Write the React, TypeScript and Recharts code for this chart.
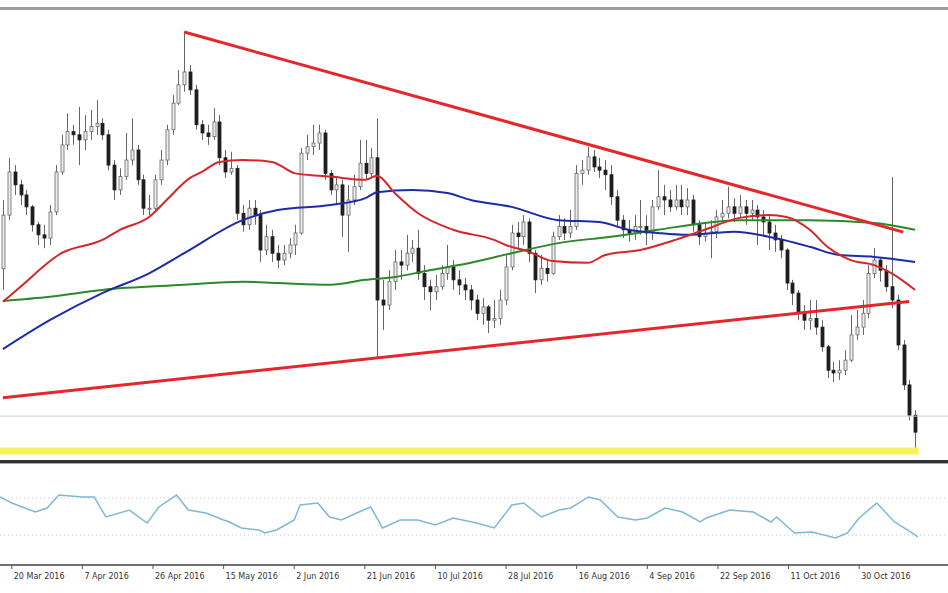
import React from 'react';
import { ComposedChart, LineChart, Bar, Line, XAxis, YAxis, ReferenceLine } from 'recharts';

// daily candles (open = previous close)
const FIRST_OPEN = 1.11;
const CLOSE = [
  1.1217, 1.1311, 1.1283, 1.1261, 1.1235, 1.1196, 1.1174, 1.1167, 1.1224, 1.1311,
  1.137, 1.1399, 1.1392, 1.1381, 1.1399, 1.141, 1.1417, 1.1392, 1.1326, 1.1272,
  1.1301, 1.1337, 1.1359, 1.1294, 1.1232, 1.1232, 1.1294, 1.1337, 1.1403, 1.1461,
  1.1501, 1.1529, 1.149, 1.1414, 1.1396, 1.1388, 1.142, 1.1342, 1.1311, 1.1319,
  1.1221, 1.1196, 1.1232, 1.1217, 1.1141, 1.117, 1.1134, 1.1119, 1.1134, 1.1152,
  1.1178, 1.1352, 1.1366, 1.1374, 1.1396, 1.1308, 1.1272, 1.1283, 1.1217, 1.125,
  1.1279, 1.133, 1.1308, 1.1342, 1.1032, 1.1021, 1.1072, 1.1115, 1.1108, 1.1134,
  1.1145, 1.109, 1.1061, 1.105, 1.1061, 1.109, 1.1104, 1.1076, 1.1065, 1.1054,
  1.1032, 1.1003, 1.1017, 1.0988, 1.0992, 1.1032, 1.1104, 1.1178, 1.117, 1.1202,
  1.1134, 1.1076, 1.1101, 1.109, 1.117, 1.1192, 1.1178, 1.1192, 1.1308, 1.1315,
  1.1344, 1.1322, 1.1315, 1.1305, 1.1257, 1.1206, 1.1185, 1.1178, 1.1192, 1.1192,
  1.1178, 1.1235, 1.1257, 1.125, 1.1235, 1.125, 1.1235, 1.125, 1.1196, 1.117,
  1.1178, 1.1181, 1.1213, 1.1221, 1.1235, 1.1221, 1.1235, 1.1221, 1.1228, 1.1213,
  1.1202, 1.1178, 1.1163, 1.1141, 1.1069, 1.1047, 1.1003, 1.0988, 1.0992, 1.0973,
  1.093, 1.0879, 1.0873, 1.0879, 1.0901, 1.0956, 1.0973, 1.1003, 1.109, 1.1119,
  1.1097, 1.1061, 1.1032, 1.0934, 1.0847, 1.0781, 1.0744,
];
const HIGH = [
  1.125, 1.1342, 1.1326, 1.1294, 1.1272, 1.1239, 1.1202, 1.1196, 1.1239, 1.1326,
  1.1392, 1.1439, 1.1414, 1.1453, 1.1435, 1.1446, 1.1468, 1.1428, 1.1403, 1.1337,
  1.1319, 1.1396, 1.1428, 1.137, 1.1305, 1.1261, 1.1305, 1.1359, 1.1414, 1.1479,
  1.1533, 1.1616, 1.1544, 1.1501, 1.1424, 1.1414, 1.145, 1.1435, 1.1359, 1.1355,
  1.1326, 1.1239, 1.125, 1.125, 1.1228, 1.1196, 1.1185, 1.1152, 1.1152, 1.1167,
  1.1196, 1.1363, 1.1392, 1.1414, 1.1414, 1.1403, 1.1315, 1.1298, 1.1294, 1.1283,
  1.1305, 1.1381, 1.1381, 1.1363, 1.1428, 1.1076, 1.1097, 1.1141, 1.1141, 1.1174,
  1.1163, 1.1185, 1.1108, 1.1076, 1.1087, 1.1108, 1.1152, 1.1119, 1.1097, 1.108,
  1.1065, 1.1043, 1.1036, 1.1021, 1.1032, 1.1054, 1.113, 1.1196, 1.1202, 1.1217,
  1.121, 1.1141, 1.113, 1.1119, 1.1181, 1.1217, 1.121, 1.1228, 1.1326, 1.1337,
  1.1366, 1.1359, 1.1342, 1.1337, 1.1326, 1.1272, 1.1217, 1.1206, 1.1217, 1.125,
  1.1217, 1.125, 1.1315, 1.1283, 1.1272, 1.1283, 1.1283, 1.1276, 1.1261, 1.1206,
  1.1202, 1.1206, 1.1228, 1.125, 1.1279, 1.1254, 1.1261, 1.125, 1.125, 1.1239,
  1.1228, 1.1217, 1.1196, 1.1174, 1.1145, 1.1076, 1.1054, 1.1021, 1.1032, 1.1032,
  1.0988, 1.0934, 1.0897, 1.0901, 1.0923, 1.0999, 1.101, 1.1032, 1.1108, 1.1145,
  1.1123, 1.1108, 1.13, 1.1043, 1.0945, 1.0858, 1.0792,
];
const LOW = [
  1.1054, 1.1206, 1.1261, 1.1239, 1.1217, 1.1181, 1.1152, 1.1145, 1.1152, 1.1217,
  1.1305, 1.1359, 1.137, 1.1326, 1.1359, 1.1381, 1.1392, 1.1381, 1.1315, 1.125,
  1.1261, 1.1294, 1.1326, 1.1283, 1.1217, 1.1217, 1.1224, 1.1283, 1.1326, 1.1392,
  1.1457, 1.1486, 1.1479, 1.1403, 1.1381, 1.137, 1.1381, 1.1326, 1.1298, 1.1305,
  1.1206, 1.1181, 1.1185, 1.1196, 1.1115, 1.113, 1.1115, 1.1101, 1.1108, 1.1123,
  1.113, 1.1174, 1.1337, 1.1348, 1.1359, 1.1294, 1.1261, 1.1239, 1.117, 1.1137,
  1.1239, 1.1272, 1.1294, 1.1298, 1.0908, 1.0967, 1.101, 1.1054, 1.1076, 1.1097,
  1.1115, 1.1076, 1.1032, 1.101, 1.1032, 1.1054, 1.1076, 1.1054, 1.1043, 1.1032,
  1.101, 1.0988, 1.0978, 1.096, 1.0971, 1.0978, 1.1021, 1.1097, 1.1145, 1.1152,
  1.1115, 1.1047, 1.1065, 1.1072, 1.1087, 1.1163, 1.1163, 1.1167, 1.1185, 1.1283,
  1.1305, 1.1311, 1.1298, 1.1272, 1.1239, 1.1189, 1.1167, 1.1159, 1.1163, 1.1174,
  1.1152, 1.1163, 1.1228, 1.1217, 1.1224, 1.1228, 1.1217, 1.1217, 1.1181, 1.1152,
  1.1159, 1.1123, 1.1167, 1.1202, 1.121, 1.1202, 1.121, 1.1196, 1.1206, 1.1152,
  1.1174, 1.1141, 1.1137, 1.1123, 1.1054, 1.1021, 1.0988, 1.0967, 1.0967, 1.0956,
  1.0919, 1.0862, 1.0853, 1.0858, 1.0868, 1.0897, 1.0945, 1.0956, 1.0992, 1.108,
  1.1072, 1.105, 1.1014, 1.0923, 1.0836, 1.077, 1.0701,
];

// moving averages, read at [bar, price]
const MA_RED = [
  [0, 1.1028], [3, 1.1061], [10, 1.1134], [17, 1.1163], [20, 1.1185], [25, 1.1213],
  [28, 1.125], [32, 1.1298], [34, 1.1311], [37, 1.1333], [41, 1.1337], [46, 1.1333],
  [50, 1.1308], [56, 1.1301], [62, 1.1294], [64, 1.1303], [67, 1.1265], [71, 1.1221],
  [77, 1.1185], [84, 1.1163], [86, 1.1152], [90, 1.1137], [94, 1.1117], [100, 1.1113],
  [103, 1.113], [109, 1.1141], [115, 1.1163], [120, 1.1185], [126, 1.1211], [131, 1.1217],
  [134, 1.1213], [138, 1.1185], [141, 1.1148], [145, 1.1119], [149, 1.1108], [152, 1.109],
  [156, 1.1054],
];
const MA_BLUE = [
  [0, 1.0925], [8, 1.0988], [17, 1.1047], [25, 1.109], [31, 1.1134], [41, 1.1206],
  [47, 1.1228], [56, 1.1239], [62, 1.1254], [64, 1.1267], [70, 1.1272], [76, 1.1265],
  [80, 1.125], [87, 1.1235], [95, 1.1206], [102, 1.1202], [107, 1.1185], [112, 1.1178],
  [117, 1.1174], [125, 1.1181], [132, 1.1167], [138, 1.1148], [143, 1.113], [149, 1.1126],
  [156, 1.1115],
];
const MA_GREEN = [
  [0, 1.103], [8, 1.1039], [17, 1.1054], [31, 1.1065], [41, 1.1072], [47, 1.1069],
  [56, 1.1065], [62, 1.1076], [67, 1.1082], [73, 1.1097], [80, 1.1113], [87, 1.1134],
  [95, 1.1156], [104, 1.117], [112, 1.1185], [120, 1.12], [126, 1.1206], [138, 1.1206],
  [149, 1.12], [156, 1.1185],
];

// triangle trendlines
const TREND_UPPER = [[31, 1.1616], [154, 1.118]];
const TREND_LOWER = [[0, 1.0819], [155, 1.1029]];
const SUPPORT = 1.0703;
const LEVEL = 1.0779;

// RSI sub-window, read at [bar, value]
const RSI = [
  [0, 71.1], [2, 64.6], [6, 54.9], [8, 59.2], [10, 73.2], [14, 71.1], [16, 71.1],
  [18, 49.5], [22, 57.0], [25, 43.0], [27, 60.3], [30, 73.2], [32, 57.0], [35, 53.8],
  [38, 46.2], [39, 44.1], [41, 37.6], [44, 35.4], [45, 32.2], [47, 35.4], [50, 46.2],
  [51, 62.4], [54, 64.6], [56, 49.5], [58, 46.2], [61, 54.9], [63, 60.3], [65, 37.6],
  [68, 46.2], [71, 46.2], [74, 40.8], [77, 48.4], [81, 43.0], [84, 37.6], [87, 62.4],
  [89, 64.6], [92, 49.5], [95, 57.0], [97, 59.2], [100, 71.1], [102, 67.8], [105, 49.5],
  [108, 46.2], [110, 48.4], [113, 59.2], [116, 54.9], [119, 44.1], [120, 48.4], [124, 57.0],
  [128, 54.9], [131, 44.1], [132, 49.5], [135, 32.2], [138, 33.2], [142, 26.8], [144, 32.2],
  [146, 48.4], [149, 64.6], [152, 44.1], [155, 32.2], [156, 27.8],
];

const DATE_TICKS = [2, 14, 26, 38, 50, 62, 74, 86, 98, 110, 122, 134, 146];
const DATE_LABELS = [
  '20 Mar 2016', '7 Apr 2016', '26 Apr 2016', '15 May 2016', '2 Jun 2016', '21 Jun 2016',
  '10 Jul 2016', '28 Jul 2016', '16 Aug 2016', '4 Sep 2016', '22 Sep 2016', '11 Oct 2016',
  '30 Oct 2016',
];

const toMap = (pairs: number[][]) => new Map(pairs.map(([i, v]) => [i, v]));
const red = toMap(MA_RED), blue = toMap(MA_BLUE), green = toMap(MA_GREEN);
const up = toMap(TREND_UPPER), lo = toMap(TREND_LOWER), rsi = toMap(RSI);

const data = CLOSE.map((c, i) => ({
  i,
  open: i ? CLOSE[i - 1] : FIRST_OPEN,
  close: c,
  high: HIGH[i],
  low: LOW[i],
  red: red.get(i) ?? null,
  blue: blue.get(i) ?? null,
  green: green.get(i) ?? null,
  up: up.get(i) ?? null,
  lo: lo.get(i) ?? null,
  rsi: rsi.get(i) ?? null,
}));

function Candle(props: any) {
  const { x, y, width, height, payload } = props;
  if (!payload) return null;
  const { open, close, high, low } = payload;
  const top = Math.min(y, y + height);
  const h = Math.abs(height);
  const k = high > low ? h / (high - low) : 0;
  const yOf = (v: number) => top + (high - v) * k;
  const cx = Math.round(x + width / 2) + 0.5;
  const bull = close >= open;
  const bTop = yOf(Math.max(open, close));
  const bBot = yOf(Math.min(open, close));
  return (
    <g>
      <line x1={cx} x2={cx} y1={top} y2={top + h} stroke="#666" strokeWidth={1} />
      <rect x={cx - 1.5} y={bTop} width={3} height={Math.max(1, bBot - bTop)}
        fill={bull ? '#ececec' : '#1e1e1e'} stroke={bull ? '#6a6a6a' : '#1e1e1e'} strokeWidth={0.8} />
    </g>
  );
}

function DateTick({ x, y, payload }: any) {
  const idx = DATE_TICKS.indexOf(payload.value);
  return (
    <text x={x + 2} y={y + 8} fontSize={8} fill="#333" fontFamily="DejaVu Sans" textAnchor="start">
      {DATE_LABELS[idx]}
    </text>
  );
}

export default function App() {
  return (
    <div style={{ position: 'absolute', left: 0, top: 0, width: 948, height: 593, background: '#fff', overflow: 'hidden' }}>
      <div style={{ position: 'absolute', left: 0, top: 7, width: 948, height: 3, background: '#9c9c9c' }} />
      <div style={{ position: 'absolute', left: 0, top: 0 }}>
        <ComposedChart width={948} height={465} data={data} margin={{ top: 10, right: 0, bottom: 3, left: 0 }}>
          <XAxis dataKey="i" hide padding={{ left: 0, right: 30 }} />
          <YAxis hide domain={[1.0679, 1.1664]} allowDataOverflow />
          <ReferenceLine y={LEVEL} stroke="#cfcfcf" strokeWidth={1} />
          <ReferenceLine segment={[{ x: 0, y: SUPPORT }, { x: 156, y: SUPPORT }]} stroke="#f4f458" strokeWidth={7} strokeLinecap="square" />
          <Bar dataKey={(d: any) => [d.low, d.high]} shape={Candle} isAnimationActive={false} />
          <Line dataKey="green" stroke="#2a8a2a" strokeWidth={2} dot={false} connectNulls type="monotone" isAnimationActive={false} />
          <Line dataKey="blue" stroke="#1c2ca8" strokeWidth={2} dot={false} connectNulls type="monotone" isAnimationActive={false} />
          <Line dataKey="red" stroke="#d6262b" strokeWidth={2} dot={false} connectNulls type="monotone" isAnimationActive={false} />
          <Line dataKey="up" stroke="#e5272c" strokeWidth={3} dot={false} connectNulls type="linear" isAnimationActive={false} />
          <Line dataKey="lo" stroke="#e5272c" strokeWidth={3} dot={false} connectNulls type="linear" isAnimationActive={false} />
        </ComposedChart>
      </div>
      <div style={{ position: 'absolute', left: 0, top: 460, width: 948, height: 3, background: '#333' }} />
      <div style={{ position: 'absolute', left: 0, top: 463, width: 948, height: 1, background: '#aaa' }} />
      <div style={{ position: 'absolute', left: 0, top: 467 }}>
        <LineChart width={948} height={126} data={data} margin={{ top: 0, right: 0, bottom: 0, left: 0 }}>
          <XAxis dataKey="i" ticks={DATE_TICKS} interval={0} height={28} padding={{ left: 0, right: 30 }}
            axisLine={{ stroke: '#707070', strokeWidth: 2 }} tickLine={{ stroke: '#555' }} tickSize={4}
            tick={<DateTick />} />
          <YAxis hide domain={[-2.4, 103.5]} />
          <ReferenceLine y={70} stroke="#c8c8c8" strokeDasharray="1 3" />
          <ReferenceLine y={30} stroke="#c8c8c8" strokeDasharray="1 3" />
          <Line dataKey="rsi" stroke="#7fb8d4" strokeWidth={1.5} dot={false} connectNulls type="linear" isAnimationActive={false} />
        </LineChart>
      </div>
    </div>
  );
}
